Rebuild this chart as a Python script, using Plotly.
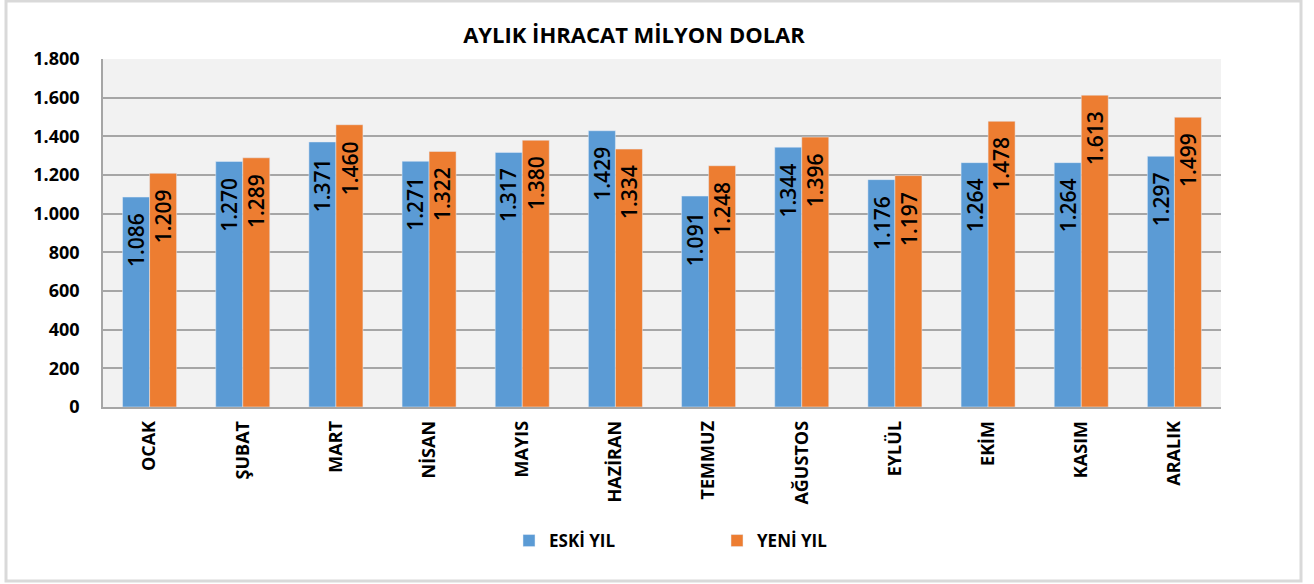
import plotly.graph_objects as go

# aylar ve değerler (milyon dolar)
aylar = ['OCAK', 'ŞUBAT', 'MART', 'NİSAN', 'MAYIS', 'HAZİRAN',
         'TEMMUZ', 'AĞUSTOS', 'EYLÜL', 'EKİM', 'KASIM', 'ARALIK']
eski_yil = [1086, 1270, 1371, 1271, 1317, 1429, 1091, 1344, 1176, 1264, 1264, 1297]
yeni_yil = [1209, 1289, 1460, 1322, 1380, 1334, 1248, 1396, 1197, 1478, 1613, 1499]

W, H = 1314, 584
L, R, T, B = 103, 93, 59, 177
pw, ph = W - L - R, H - T - B
BARGAP = 0.42

FONT = 'Open Sans'

fig = go.Figure()
seriler = [('ESKİ YIL', eski_yil, '#5b9bd5'), ('YENİ YIL', yeni_yil, '#ed7d31')]
for name, vals, color in seriler:
    fig.add_trace(go.Bar(x=aylar, y=vals, name=name, marker_color=color))

# çubuk içi etiketler (dikey), grup içindeki kaydırma piksel cinsinden
bar_px = pw / len(aylar) * (1 - BARGAP) / 2
for i, (name, vals, color) in enumerate(seriler):
    shift = (i - 0.5) * bar_px
    for ay, v in zip(aylar, vals):
        fig.add_annotation(
            x=ay, y=v, text=f"{v:,}".replace(',', '.'),
            textangle=-90, showarrow=False,
            xanchor='center', yanchor='top',
            xshift=shift, yshift=-14,
            font={'family': FONT, 'size': 21, 'color': 'black', 'weight': 600},
        )

# dış çerçeve
fig.add_shape(type='rect', xref='paper', yref='paper',
              x0=(6 - L) / pw, x1=(1301 - L) / pw,
              y0=(H - B - 581) / ph, y1=(H - B - 1) / ph,
              line={'color': '#d9d9d9', 'width': 3}, layer='below')

fig.update_layout(
    {
        "width": W,
        "height": H,
        "margin": {"l": L, "r": R, "t": T, "b": B},
        "paper_bgcolor": "white",
        "plot_bgcolor": "#f2f2f2",
        "separators": ",.",
        "barmode": "group",
        "bargap": BARGAP,
        "bargroupgap": 0,
        "font": {"family": FONT, "color": "black"},
        "title": {
            "text": "AYLIK İHRACAT MİLYON DOLAR",
            "x": (634 - L) / pw, "xref": "paper", "xanchor": "center",
            "y": 1 - 35 / H, "yanchor": "middle",
            "font": {"size": 22, "weight": "bold"}
        },
        "xaxis": {
            "tickangle": -90,
            "tickfont": {"size": 18, "weight": "bold"},
            "showline": True, "linecolor": "#a6a6a6", "linewidth": 1.5,
            "ticks": "", "showgrid": False, "ticklabelstandoff": 5
        },
        "yaxis": {
            "range": [0, 1800], "dtick": 200, "tickformat": ",",
            "tickfont": {"size": 18, "weight": "bold"},
            "showgrid": True, "gridcolor": "#a6a6a6", "gridwidth": 1.5,
            "showline": True, "linecolor": "#a6a6a6", "linewidth": 1.5,
            "zeroline": False, "ticks": "", "ticklabelstandoff": 18
        },
        "showlegend": True,
        "legend": {
            "orientation": "h",
            "x": (509 - L) / pw, "xanchor": "left",
            "y": (H - B - 541) / ph, "yanchor": "middle",
            "entrywidth": 163, "entrywidthmode": "pixels",
            "font": {"size": 17, "weight": "bold"},
            "traceorder": "normal"
        }
    }
)

fig.write_html("out.html", config={"displayModeBar": False},
               post_script="document.body.style.margin='0';")
